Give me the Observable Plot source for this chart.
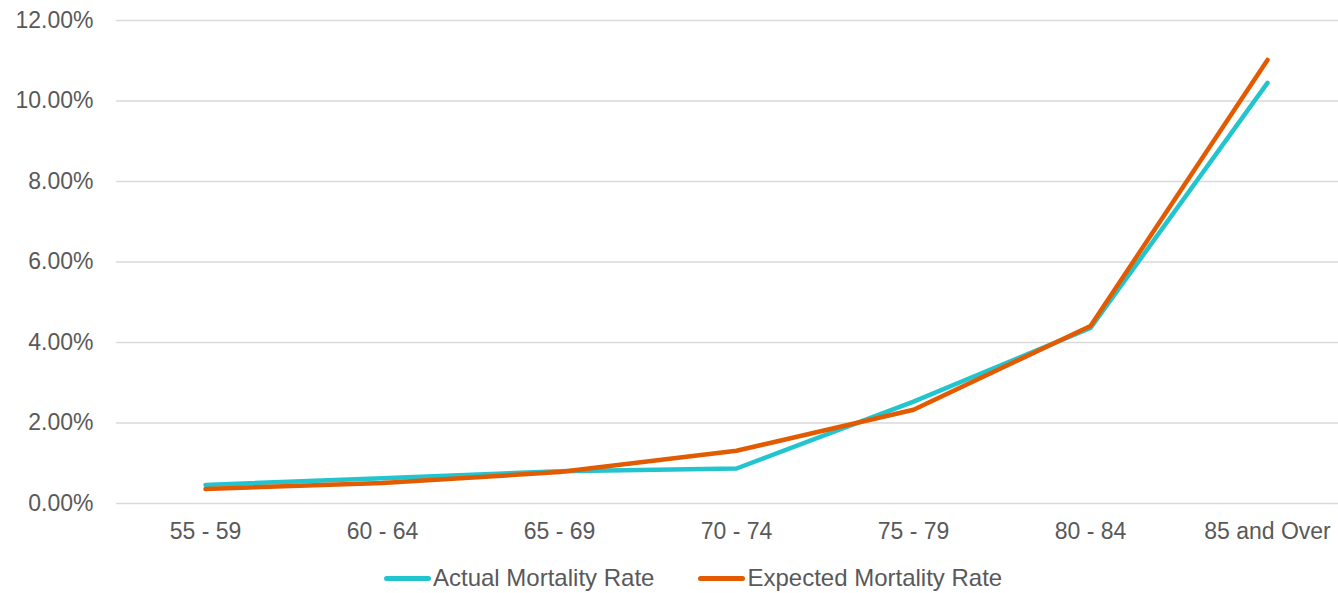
<!DOCTYPE html>
<html>
<head>
<meta charset="utf-8">
<script src="https://cdn.jsdelivr.net/npm/d3@7"></script>
<script src="https://cdn.jsdelivr.net/npm/@observablehq/plot@0.6"></script>
<style>
  html, body { margin: 0; padding: 0; background: #fff; }
  body { width: 1338px; height: 593px; overflow: hidden; font-family: "Liberation Sans", Arial, sans-serif; }
  #legend { display: flex; justify-content: flex-start; align-items: center; height: 38px; padding-top: 4px; padding-left: 384px; font-size: 24px; color: #595959; }
  .item { display: flex; align-items: center; margin-right: 44px; }
  .sw { width: 47px; height: 5px; border-radius: 3px; margin-right: 2px; }
</style>
</head>
<body>
<div id="chart"></div>
<div id="legend"></div>
<script>
const categories = ["55 - 59", "60 - 64", "65 - 69", "70 - 74", "75 - 79", "80 - 84", "85 and Over"];
const actual = [0.0046, 0.0063, 0.0080, 0.0087, 0.0253, 0.0436, 0.1045];
const expected = [0.0036, 0.0051, 0.0078, 0.0131, 0.0233, 0.0441, 0.1102];
const yTicks = [0, 0.02, 0.04, 0.06, 0.08, 0.10, 0.12];
const seriesNames = ["Actual Mortality Rate", "Expected Mortality Rate"];
const seriesColors = ["#22C5CE", "#E35B00"];

const rows = [];
categories.forEach((c, i) => {
  rows.push({cat: c, value: actual[i], series: seriesNames[0]});
  rows.push({cat: c, value: expected[i], series: seriesNames[1]});
});

const chart = Plot.plot({
  width: 1338,
  height: 555,
  marginLeft: 116,
  marginRight: 0,
  marginTop: 20,
  marginBottom: 52,
  style: {fontFamily: "'Liberation Sans', Arial, sans-serif", fontSize: "23px", color: "#595959", background: "#fff"},
  x: {type: "point", domain: categories, range: [204.5, 1266.5], padding: 0, label: null},
  y: {domain: [0, 0.12], label: null},
  color: {domain: seriesNames, range: seriesColors},
  marks: [
    Plot.ruleY(yTicks, {stroke: "#d9d9d9", strokeWidth: 1.6}),
    Plot.axisY({ticks: yTicks, tickFormat: d => (d * 100).toFixed(2) + "%", tickSize: 0, tickPadding: 23, label: null, fill: "#595959"}),
    Plot.axisX({tickSize: 0, tickPadding: 19, label: null, fill: "#595959"}),
    Plot.line(rows, {x: "cat", y: "value", z: "series", stroke: "series", strokeWidth: 4.5, strokeLinecap: "round", strokeLinejoin: "round"})
  ]
});
document.getElementById("chart").appendChild(chart);

const legend = document.getElementById("legend");
seriesNames.forEach((n, i) => {
  const it = document.createElement("div");
  it.className = "item";
  const sw = document.createElement("div");
  sw.className = "sw";
  sw.style.background = seriesColors[i];
  const t = document.createElement("span");
  t.textContent = n;
  it.appendChild(sw);
  it.appendChild(t);
  legend.appendChild(it);
});
</script>
</body>
</html>
